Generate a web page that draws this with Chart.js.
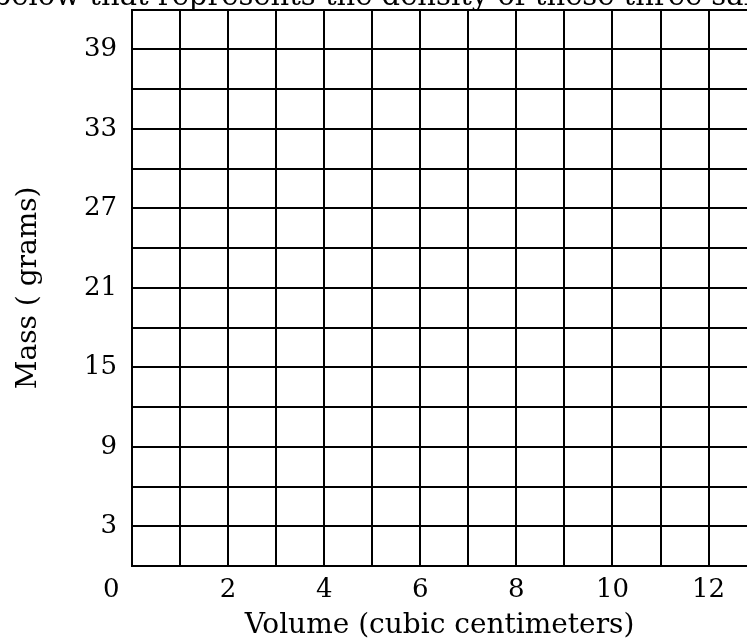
<!DOCTYPE html>
<html>
<head>
<meta charset="utf-8">
<script src="https://cdn.jsdelivr.net/npm/chart.js@4/dist/chart.umd.min.js"></script>
<style>
  html, body { margin: 0; padding: 0; background: #fff; overflow: hidden; width: 747px; height: 639px; }
  #wrap { position: relative; width: 1100px; height: 660px; margin-top: -21px; margin-left: -210px; }
</style>
</head>
<body>
<div id="wrap"><canvas id="c"></canvas></div>
<script>
// Data (empty grid: no plotted points in the reference)
const xLabelValues = [0, 2, 4, 6, 8, 10, 12];
const yLabelValues = [3, 9, 15, 21, 27, 33, 39];
const points = [];
const titleText = 'the graph below that represents the density of these three samples.';
const xTitle = 'Volume (cubic centimeters)';
const yTitle = 'Mass ( grams)';

const FONT = 'DejaVu Serif';
const SHIFT = 210;          // hidden canvas part on the left
const RIGHT_EXTRA = 1100 - 747 - SHIFT;

new Chart(document.getElementById('c'), {
  type: 'scatter',
  data: { datasets: [{ data: points, showLine: false, xAxisID: 'x', yAxisID: 'y' }] },
  options: {
    responsive: true,
    maintainAspectRatio: false,
    animation: false,
    layout: { padding: 0 },
    plugins: {
      legend: { display: false },
      tooltip: { enabled: false },
      title: {
        display: true,
        text: titleText,
        color: '#000',
        font: { family: FONT, size: 29, weight: 'normal', lineHeight: 1 },
        padding: { top: -3, bottom: -2 }
      }
    },
    scales: {
      x: {
        type: 'linear',
        position: 'bottom',
        min: 0,
        max: 12.8,
        afterFit: (s) => { s.height = 73; },
        grid: { color: '#000', lineWidth: 2, drawTicks: false },
        border: { display: true, color: '#000', width: 2 },
        ticks: {
          stepSize: 1,
          includeBounds: false,
          autoSkip: false,
          maxRotation: 0,
          padding: 9,
          color: '#000',
          font: { family: FONT, size: 26 },
          callback: (v) => {
            if (!xLabelValues.includes(v)) return '';
            return v === 0 ? '0     ' : String(v);
          }
        },
        title: {
          display: true,
          text: xTitle,
          color: '#000',
          font: { family: FONT, size: 28, lineHeight: 1.2 },
          padding: { top: 0, bottom: -4 }
        }
      },
      y: {
        type: 'linear',
        position: 'left',
        min: 0,
        max: 42,
        afterFit: (s) => { s.width = SHIFT + 132; },
        grid: { color: '#000', lineWidth: 2, drawTicks: false },
        border: { display: true, color: '#000', width: 2 },
        ticks: {
          stepSize: 3,
          autoSkip: false,
          padding: 15,
          color: '#000',
          font: { family: FONT, size: 26 },
          callback: (v) => yLabelValues.includes(v) ? String(v) : ''
        },
        title: {
          display: true,
          text: yTitle,
          color: '#000',
          font: { family: FONT, size: 28, lineHeight: 1.2 },
          padding: { top: SHIFT + 12, bottom: 0 }
        }
      },
      yRight: {
        type: 'linear',
        position: 'right',
        display: true,
        afterFit: (s) => { s.width = RIGHT_EXTRA; },
        grid: { display: false, drawOnChartArea: false },
        border: { display: false },
        ticks: { display: false },
        title: { display: false }
      }
    }
  }
});
</script>
</body>
</html>
